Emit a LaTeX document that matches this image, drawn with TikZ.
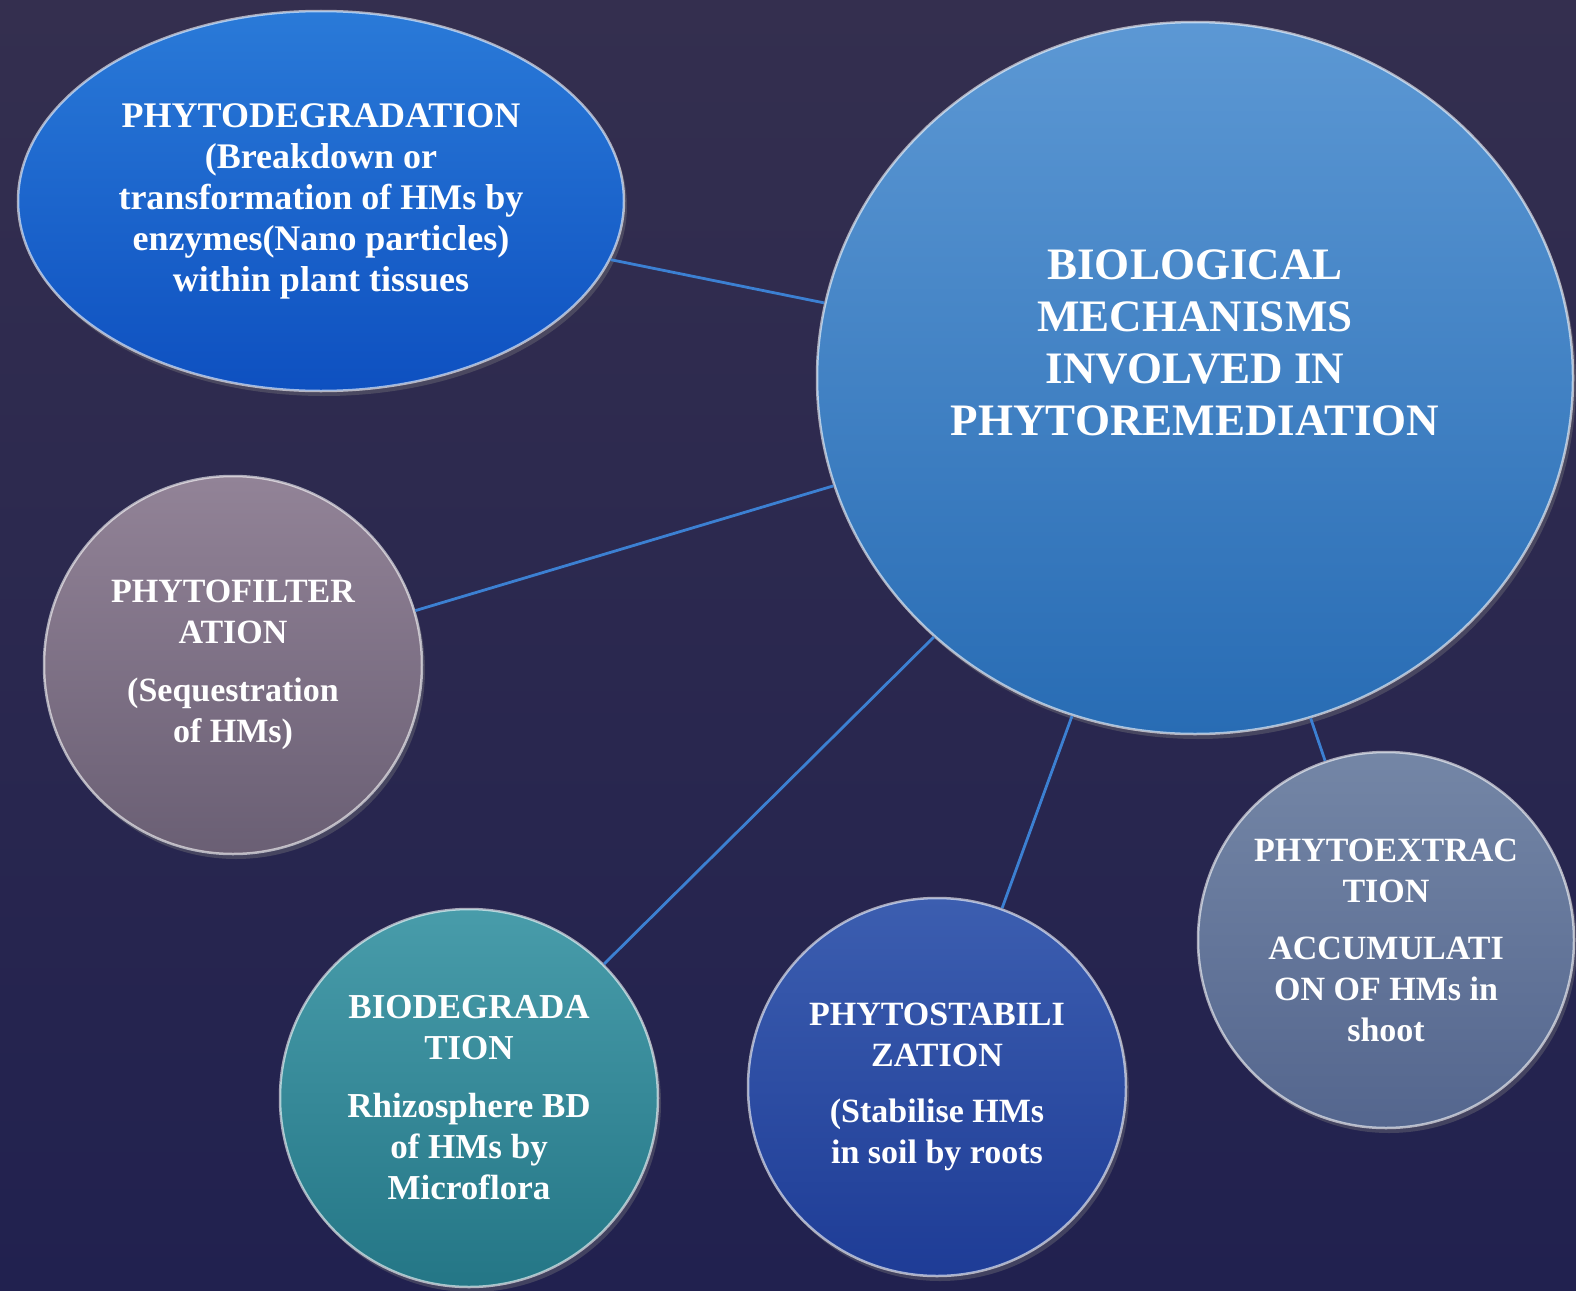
\documentclass[tikz,border=0pt]{standalone}
\usepackage{fontspec}
\setmainfont{Liberation Serif}
\usepackage{xcolor}
\usepackage{tikz}
\usetikzlibrary{shapes.geometric, shadows}

\definecolor{bgtop}{RGB}{52,47,79}
\definecolor{bgbot}{RGB}{33,33,79}
\definecolor{linkblue}{RGB}{60,128,210}

\begin{document}
\begin{tikzpicture}[
      x=1pt, y=-1pt,
      bubble/.style={circle, inner sep=0pt, minimum size=378pt, align=center, text=white,
        font=\bfseries\fontsize{34}{41}\selectfont,
        draw=white, draw opacity=0.6, line width=2.5pt,
        drop shadow={opacity=0.35, shadow xshift=3pt, shadow yshift=-5pt}},
      oval/.style={bubble, ellipse},
      title/.style={align=center, text=white, font=\bfseries\fontsize{45}{52}\selectfont},
      link/.style={draw=linkblue, line width=2.8pt}
    ]
    \useasboundingbox (0,0) rectangle (1576,1290);
    \fill[top color=bgtop, bottom color=bgbot] (0,0) rectangle (1576,1290);
    % centre
    \node[oval, minimum width=756pt, minimum height=712pt,
      top color={rgb,255:red,92;green,152;blue,212}, bottom color={rgb,255:red,40;green,108;blue,180}] (core) at (1195,378) {};
    \node[title] (coretitle) at (1195,343) {BIOLOGICAL\\ MECHANISMS\\ INVOLVED IN\\ PHYTOREMEDIATION};
    % mechanisms
    \node[oval, minimum width=606pt, minimum height=380pt, font=\bfseries\fontsize{36}{41}\selectfont,
      top color={rgb,255:red,42;green,122;blue,216}, bottom color={rgb,255:red,14;green,80;blue,192}] (degr) at (321,201)
      {PHYTODEGRADATION\\ (Breakdown or\\ transformation of HMs by\\ enzymes(Nano particles)\\ within plant tissues};
    \node[bubble, top color={rgb,255:red,146;green,131;blue,151}, bottom color={rgb,255:red,106;green,95;blue,116}] (filt) at (233,665)
      {PHYTOFILTER\\ ATION\\[17pt] (Sequestration\\ of HMs)};
    \node[bubble, font=\bfseries\fontsize{35}{41}\selectfont, top color={rgb,255:red,72;green,156;blue,170}, bottom color={rgb,255:red,36;green,118;blue,134}] (biod) at (469,1098)
      {BIODEGRADA\\ TION\\[17pt] Rhizosphere BD\\ of HMs by\\ Microflora};
    \node[bubble, top color={rgb,255:red,60;green,94;blue,176}, bottom color={rgb,255:red,30;green,60;blue,150}] (stab) at (937,1087)
      {PHYTOSTABILI\\ ZATION\\[15pt] (Stabilise HMs\\ in soil by roots};
    \node[bubble, minimum size=376pt, top color={rgb,255:red,116;green,134;blue,166}, bottom color={rgb,255:red,84;green,102;blue,142}] (extr) at (1386,940)
      {PHYTOEXTRAC\\ TION\\[16pt] ACCUMULATI\\ ON OF HMs in\\ shoot};
    % links
    \draw[link] (degr) -- (core);
    \draw[link] (filt) -- (core);
    \draw[link] (biod) -- (core);
    \draw[link] (stab) -- (core);
    \draw[link] (extr) -- (core);
  \end{tikzpicture}
\end{document}
